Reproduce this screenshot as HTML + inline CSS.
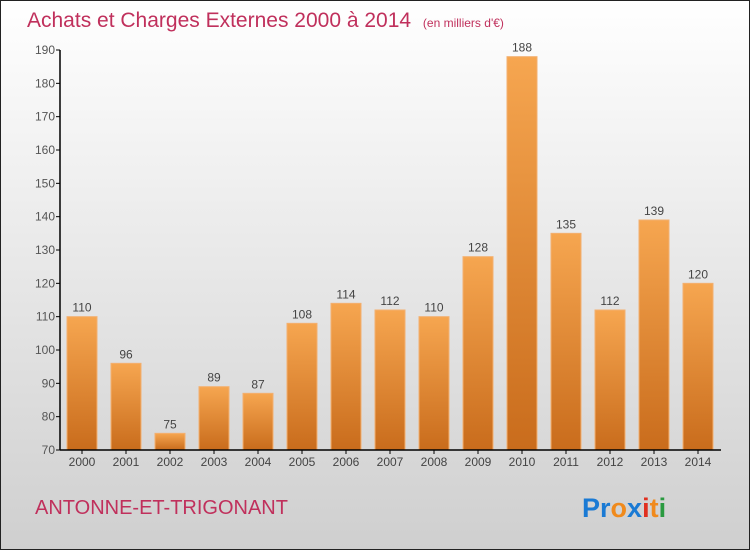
<!DOCTYPE html>
<html><head><meta charset="utf-8"><style>
body{margin:0;width:750px;height:550px;overflow:hidden;font-family:"Liberation Sans",sans-serif}
</style></head><body>
<svg width="750" height="550" xmlns="http://www.w3.org/2000/svg">
<defs>
<linearGradient id="bg" x1="0" y1="0" x2="0" y2="1"><stop offset="0" stop-color="#ffffff"/><stop offset="1" stop-color="#cfcfcf"/></linearGradient>
<linearGradient id="bar" x1="0" y1="0" x2="0" y2="1"><stop offset="0" stop-color="#f6a650"/><stop offset="1" stop-color="#c96c1c"/></linearGradient>
</defs>
<rect x="0.5" y="0.5" width="749" height="549" fill="url(#bg)" stroke="#222"/>
<text x="27" y="27" font-size="21" fill="#c0305c">Achats et Charges Externes 2000 à 2014 <tspan font-size="12" dx="6">(en milliers d'€)</tspan></text>
<g id="plot"></g>
<text x="35" y="514" font-size="20" fill="#c0305c">ANTONNE-ET-TRIGONANT</text>
<text x="582" y="517" font-size="27" font-weight="bold"><tspan fill="#1a7ad4">Pr</tspan><tspan fill="#f08a1c">o</tspan><tspan fill="#1a7ad4">x</tspan><tspan fill="#e03020">i</tspan><tspan fill="#f08a1c">t</tspan><tspan fill="#2a9a40">i</tspan></text>
</svg>
<script>
const years=["2000","2001","2002","2003","2004","2005","2006","2007","2008","2009","2010","2011","2012","2013","2014"];
const values=[110,96,75,89,87,108,114,112,110,128,188,135,112,139,120];
const yTicks=[70,80,90,100,110,120,130,140,150,160,170,180,190];
const NS="http://www.w3.org/2000/svg";
const g=document.getElementById('plot');
const y=v=>450-(v-70)*400/120;
const x=i=>82+44*i;
function mk(t,a){const e=document.createElementNS(NS,t);for(const k in a)e.setAttribute(k,a[k]);g.appendChild(e);return e;}
yTicks.forEach(t=>{
 const l=mk('line',{x1:56,x2:60,y1:y(t),y2:y(t),stroke:'#000'});
 
 
 const tx=mk('text',{x:55,y:y(t)+4,'font-size':12,fill:'#555','text-anchor':'end'});tx.textContent=t;
 
 
});
values.forEach((v,i)=>{
 const r=mk('rect',{x:x(i)-15,y:y(v),width:30,height:450-y(v),fill:'url(#bar)',stroke:'#f3b070','stroke-width':1});
 
 
 const t=mk('text',{x:x(i),y:y(v)-5,'font-size':12,fill:'#444','text-anchor':'middle'});t.textContent=v;
 
 
 const k=mk('line',{x1:x(i),x2:x(i),y1:450,y2:454,stroke:'#000'});
 
 
 const xl=mk('text',{x:x(i),y:466,'font-size':12,fill:'#444','text-anchor':'middle'});xl.textContent=years[i];
 
 
});
const ya=mk('line',{x1:60,x2:60,y1:50,y2:450,stroke:'#000','stroke-width':1.5});


const xa=mk('line',{x1:60,x2:721,y1:450,y2:450,stroke:'#000','stroke-width':1.5});


</script>
</body></html>
